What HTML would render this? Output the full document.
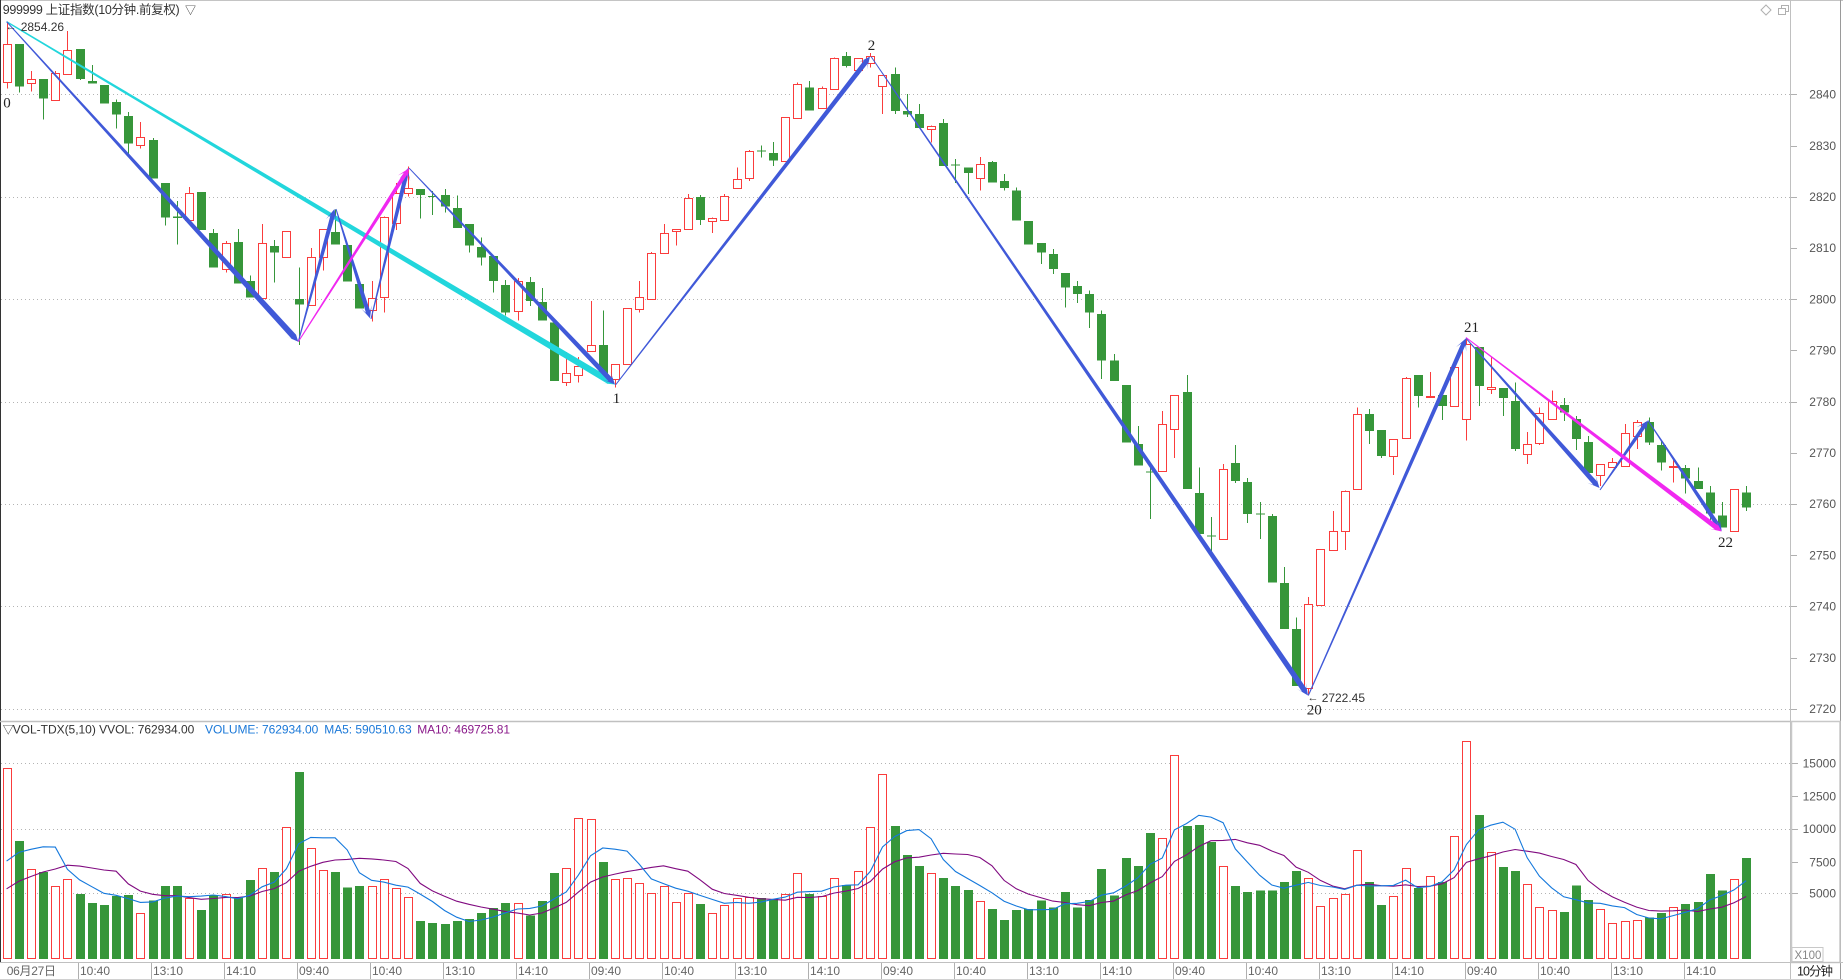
<!DOCTYPE html>
<html><head><meta charset="utf-8">
<style>
html,body{margin:0;padding:0;background:#fff;}
svg{display:block;}
text{font-family:"Liberation Sans","Noto Sans CJK SC",sans-serif;}
.ax{font-size:12px;fill:#555;}
.bx{font-size:12px;fill:#666;}
.lb{font-family:"Liberation Serif","Noto Serif CJK SC",serif;font-size:15px;fill:#222;}
</style></head>
<body>
<svg id="s" width="1843" height="980" viewBox="0 0 1843 980" xmlns="http://www.w3.org/2000/svg">
<rect width="1843" height="980" fill="#fff"/>
<g id="grid" stroke="#b4b4b4" stroke-dasharray="1,3" stroke-width="1"></g>
<g id="vol" shape-rendering="crispEdges"></g>
<g id="ma" fill="none" stroke-width="1.1"></g>
<g id="cand" shape-rendering="crispEdges"></g>
<g id="zz"></g>

<!-- frame -->
<g fill="none">
<line x1="0" y1="0.5" x2="1843" y2="0.5" stroke="#c4c4c4"/>
<line x1="0.5" y1="0" x2="0.5" y2="963" stroke="#333"/>
<line x1="0" y1="721.5" x2="1791" y2="721.5" stroke="#c0c0c0" stroke-width="1.5"/>
<line x1="1790.5" y1="0" x2="1790.5" y2="980" stroke="#c0c0c0"/>
<line x1="1840.5" y1="0" x2="1840.5" y2="980" stroke="#9a9a9a"/>
<rect x="1791.5" y="721.5" width="48.5" height="241" stroke="#c8c8c8" stroke-width="1.5"/>
<line x1="0" y1="962.5" x2="1843" y2="962.5" stroke="#c0c0c0"/>
<line x1="0" y1="979.5" x2="1843" y2="979.5" stroke="#d0d0d0"/>
<rect x="1792" y="947.5" width="31" height="14" stroke="#c8c8c8"/>
<polygon points="1766,5 1771,10 1766,15 1761,10" stroke="#b0b0b0"/>
<rect x="1781.5" y="5.5" width="7" height="6" stroke="#b0b0b0" fill="#fff"/>
<rect x="1778.5" y="8.5" width="7" height="6" stroke="#b0b0b0" fill="#fff"/>
</g>
<g id="ticks" stroke="#b0b0b0"></g>

<!-- title -->
<text x="2.7" y="14" font-size="12.5" fill="#333" textLength="177">999999 上证指数(10分钟.前复权)</text>
<text x="185" y="14" font-size="11" fill="#333">▽</text>

<!-- price labels -->
<g class="ax" text-anchor="end">
<text x="1836" y="98.6">2840</text>
<text x="1836" y="149.8">2830</text>
<text x="1836" y="201">2820</text>
<text x="1836" y="252.2">2810</text>
<text x="1836" y="303.4">2800</text>
<text x="1836" y="354.6">2790</text>
<text x="1836" y="405.8">2780</text>
<text x="1836" y="457">2770</text>
<text x="1836" y="508.2">2760</text>
<text x="1836" y="559.4">2750</text>
<text x="1836" y="610.6">2740</text>
<text x="1836" y="661.8">2730</text>
<text x="1836" y="713">2720</text>
<text x="1836" y="767.6">15000</text>
<text x="1836" y="800.3">12500</text>
<text x="1836" y="833">10000</text>
<text x="1836" y="866.3">7500</text>
<text x="1836" y="897.6">5000</text>
</g>
<text x="1794.5" y="959" font-size="11.5" fill="#888">X100</text>
<text x="1797" y="975.5" font-size="12.5" fill="#222" textLength="36">10分钟</text>

<!-- volume header -->
<text x="2.7" y="733.6" font-size="11" fill="#333">▽</text>
<text x="12.7" y="733.6" font-size="12" fill="#333" textLength="181.6">VOL-TDX(5,10) VVOL: 762934.00</text>
<text x="205" y="733.6" font-size="12" fill="#1a78d8" textLength="113.3">VOLUME: 762934.00</text>
<text x="324.3" y="733.6" font-size="12" fill="#1a78d8" textLength="87.4">MA5: 590510.63</text>
<text x="417.3" y="733.6" font-size="12" fill="#8a1a8a" textLength="92.7">MA10: 469725.81</text>

<!-- bottom labels -->
<g class="bx">
<text x="6.7" y="975" textLength="49.3">06月27日</text>
<text x="80" y="975">10:40</text>
<text x="153" y="975">13:10</text>
<text x="226" y="975">14:10</text>
<text x="299" y="975">09:40</text>
<text x="372" y="975">10:40</text>
<text x="445" y="975">13:10</text>
<text x="518" y="975">14:10</text>
<text x="591" y="975">09:40</text>
<text x="664" y="975">10:40</text>
<text x="737" y="975">13:10</text>
<text x="810" y="975">14:10</text>
<text x="883" y="975">09:40</text>
<text x="956" y="975">10:40</text>
<text x="1029" y="975">13:10</text>
<text x="1102" y="975">14:10</text>
<text x="1175" y="975">09:40</text>
<text x="1248" y="975">10:40</text>
<text x="1321" y="975">13:10</text>
<text x="1394" y="975">14:10</text>
<text x="1467" y="975">09:40</text>
<text x="1540" y="975">10:40</text>
<text x="1613" y="975">13:10</text>
<text x="1686" y="975">14:10</text>
</g>

<!-- wave labels -->
<text class="lb" x="3.3" y="107.5">0</text>
<text class="lb" x="612.7" y="403">1</text>
<text class="lb" x="867.7" y="50">2</text>
<text class="lb" x="1306.7" y="714.5">20</text>
<text class="lb" x="1464" y="332">21</text>
<text class="lb" x="1718" y="547">22</text>
<text x="5.5" y="30" font-size="11" fill="#333">←</text>
<text x="20.7" y="30.8" font-size="12" fill="#333" textLength="43.4">2854.26</text>
<text x="1307.5" y="701" font-size="11" fill="#333">←</text>
<text x="1321.7" y="702" font-size="12" fill="#333" textLength="43.3">2722.45</text>
</svg>

<script>
(function(){
var RED='#fa3c3c', GRN='#36963a';
var C=[
['r',44.3,82.3,21.7,88.3],['g',44,86.7,44,92.7],['r',79.3,83.3,71,91.7],['g',79,98.7,79,119.3],['r',73.3,100.3,71,100.3],
['r',50.3,74.3,31,74.3],['g',49,79,49,80],['g',81,83.7,65,83.7],['g',85,103.7,85,103.7],['g',102,114.7,99.3,128.7],
['g',116,143.7,112,156],['r',137,145.3,122,148.7],['g',140,178.7,138,178.7],['g',183,217.7,183,225.7],['g',216.5,218,201,244.3],
['r',193.3,220,187,223.3],['g',192,230,192,230],['g',233,267.7,229,267.7],['r',243.3,269.3,241,272.7],['g',242,283.3,229,283.3],
['g',281,297.7,275.3,297.7],['r',243.3,298.3,224,300],['g',246,252.7,240,282.7],['r',231,256.7,231,256.7],['g',299,304.7,267.7,345],
['r',257.3,305.3,248,305.3],['r',229.3,257.3,229.3,270.7],['g',232,244.7,209.3,244.7],['g',245,281.7,245,281.7],['g',284,308.7,284,308.7],
['r',298.3,310,281,321.7],['r',216.7,297.3,216.7,312.7],['r',192.7,222.7,183,230],['r',187.7,193.3,166.7,196.7],['g',189,195,189,218.7],
['g',195.8,196.8,191,215],['g',195,206.7,189,212.3],['g',208,228,195.6,228],['g',223.8,245.6,223.8,252.5],['g',247,257.5,237.5,265.6],
['g',256,281,256,292.5],['g',285,312.5,280,315.6],['r',280.6,310.6,278,320.6],['g',282,301,277,306],['g',302,320.6,288,320.6],
['g',322.5,381,322.5,381],['r',373,382,352,386],['r',365.6,375,357,382.5],['r',345,351,301,351],['g',345,375,310.6,375],
['r',364,379,364,387.5],['r',308,364,308,364],['r',297,309,281,312.5],['r',253,299,252,300],['r',232.5,253,224,253],
['r',229.4,231,229.4,245.6],['r',197.5,229.4,194,229.4],['g',197,220,195,225],['r',217.5,221,217.5,233],['r',195.6,220,194,220],
['r',179.4,187.5,167.5,187.5],['r',151,178,150,181],['g',150.5,151.5,145.6,157.5],['g',153,160.6,142,166],['r',117,161,117,161],
['r',84.4,117.5,82.5,118.7],['g',87.5,110.6,81,110.6],['r',87.5,107.5,86.3,107.5],['r',57.5,88.75,57.5,88.75],['g',56,66,52,67.5],
['r',58,70,58,75],['r',56,62.5,53,67.5],['r',75,86,75,114],['g',74,111,67.5,114],['g',111,114.4,94,117],
['g',114,128,104,128],['r',125.6,129.4,125.6,142.5],['g',123,166,119,166],['g',164.5,165.5,159,183],['g',167.5,173,167.5,194],
['r',164,177.5,157,190.6],['g',162,182.5,161,182.5],['g',181,188,174,190.6],['g',190.6,220.6,187.5,220.6],['g',221,244.4,221,244.4],
['g',243,252.5,243,264],['g',254,269,249,274],['g',273,287.5,273,307.5],['g',286,294,281,303],['g',294,312.5,290.6,328],
['g',314,360.6,310.6,379],['g',360.6,381,354,381],['g',385,442.5,385,442.5],['g',444,465.6,426,465.6],['g',471.5,472.5,465.6,518.75],
['r',424,471,411,471],['r',395,429,395,458],['g',392,489,375,489],['g',493,534,467.5,534],['g',535.5,536.5,517,553],
['r',469,539,464,539],['g',463,481,445,483],['g',482,514,478,523],['g',513.5,514.5,502,539],['g',516,582.5,514,582.5],
['g',583,629,567,629],['g',629,686,617.5,686],['r',604,688,597,695.5],['r',549,605,549,605],['r',531,550,511,550],
['r',490.6,531,490.6,550],['r',414,489,407.5,489],['g',414,431,409,444],['g',430,456,430,458],['r',439,456,439,475],
['r',378,437.5,377,439],['g',375,396,375,407.5],['r',396,397,372,397],['g',395,406,395,420],['r',367,406,367,406],
['r',344,419,338.5,440.6],['g',347,386,347,406],['r',387,389,357,394],['g',388,398,388,416],['g',401,449,382.5,451],
['r',444,454,432,464],['r',413,443,407.5,445],['r',401,419,390.6,420],['g',405,412.5,398,421],['g',419,439,416,450],
['g',442,473,436,473],['r',464,475,464,486],['r',462,466.5,458,467.5],['r',433,466,424,466],['r',421.5,436,420,449],
['g',422,442.5,417.5,445],['g',445,462.5,441,470.5],['r',465.5,466.5,460,482.7],['g',468,478.5,465,493.5],['g',481,489,467.5,489],
['g',492.5,513.5,486,524],['g',515.5,527.5,502,527.5],['r',489,531,489,531],['g',492.5,507.5,486,511]
];
var V=[767.5,841,868.8,872,886,878.8,893.8,903,905,896,895,913,900.6,886,886,898,910,895,894,897,
880,868,872,827,772,848,870,872,887.5,886,886,879,887.5,897,921,923,924,
921,918.75,913,908,903,902.5,915.6,901,873,868,818,819,862,879,877.5,883,893,885.6,902,892.5,904,913,905,897.5,897,898,899,894,873,894,896,878,885,871,827,774,826,
855,866,872.5,878,886,890,901,909,920,910,909,900.6,907.5,892,907.5,900,869,895.6,858,866,833,837.5,755,826,825,842,865.6,886,892,890.6,890.6,882,871,878,906,898,894,
850,882,905,896,867.5,888,875.6,882,836,741,815,852,867,871,884,907,910,912,885.6,900,909,923,920.6,920,917.5,913,907,904,902,874,890.6,879,858];
function cx(i){return 6.6+i*12.165;}
var BASE=958.5;
// grid
var g='';
[94.3,196.7,299.1,401.5,503.9,606.3,708.7,763.3,828.7,893.3].forEach(function(y){
  var yy=Math.round(y)+0.5; g+='<line x1="1" y1="'+yy+'" x2="1790" y2="'+yy+'"/>';});
document.getElementById('grid').innerHTML=g;
// ticks
var t='';
[94.3,145.5,196.7,247.9,299.1,350.3,401.5,452.7,503.9,555.1,606.3,657.5,708.7].forEach(function(y){
  var yy=Math.round(y)+0.5; t+='<line x1="1791" y1="'+yy+'" x2="1797" y2="'+yy+'"/>';});
[763.3,796,828.7,862,893.3].forEach(function(y){
  var yy=Math.round(y)+0.5; t+='<line x1="1792" y1="'+yy+'" x2="1798" y2="'+yy+'"/>';});
for(var i=6;i<144;i+=6){var x=Math.round(cx(i)-1.5)+0.5; t+='<line x1="'+x+'" y1="963" x2="'+x+'" y2="979"/>';}
document.getElementById('ticks').innerHTML=t;
// candles + volume
var s='',v='';
C.forEach(function(c,i){
  var x=Math.round(cx(i)), wx=x+0.5;
  var top=c[1],bot=c[2],hi=c[3],lo=c[4];
  var vt=V[i];
  if(c[0]==='r'){
    var t1=Math.round(top)+0.5,b1=Math.round(bot)+0.5; if(b1<t1+1)b1=t1+1;
    if(hi<t1) s+='<line x1="'+wx+'" y1="'+hi+'" x2="'+wx+'" y2="'+t1+'" stroke="'+RED+'"/>';
    if(lo>b1) s+='<line x1="'+wx+'" y1="'+b1+'" x2="'+wx+'" y2="'+lo+'" stroke="'+RED+'"/>';
    s+='<rect x="'+(x-3.5)+'" y="'+t1+'" width="8" height="'+(b1-t1)+'" fill="#fff" stroke="'+RED+'"/>';
    var vt1=Math.round(vt)+0.5;
    v+='<rect x="'+(x-3.5)+'" y="'+vt1+'" width="8" height="'+(BASE-vt1)+'" fill="#fff" stroke="'+RED+'"/>';
  } else {
    var h=Math.max(bot-top,1.2);
    s+='<line x1="'+wx+'" y1="'+hi+'" x2="'+wx+'" y2="'+lo+'" stroke="'+GRN+'"/>';
    s+='<rect x="'+(x-4)+'" y="'+top+'" width="9" height="'+h+'" fill="'+GRN+'"/>';
    v+='<rect x="'+(x-4)+'" y="'+vt+'" width="9" height="'+(BASE+0.5-vt)+'" fill="'+GRN+'"/>';
  }
});
document.getElementById('cand').innerHTML=s;
document.getElementById('vol').innerHTML=v;
// MAs
var pre=[42,42,42,42,42,74,74,74,74];
var H=V.map(function(q){return BASE-q;});
var all=pre.concat(H);
function ma(n){var p=[];for(var i=0;i<H.length;i++){var sm=0;for(var k=0;k<n;k++)sm+=all[i+9-k];p.push(cx(i).toFixed(1)+','+(BASE-sm/n).toFixed(1));}return p.join(' ');}
document.getElementById('ma').innerHTML='<polyline points="'+ma(10)+'" stroke="#800a80"/><polyline points="'+ma(5)+'" stroke="#1478dc"/>';
// zigzag arrows
function arrow(x1,y1,x2,y2,col,w1,w0,L,Hh){
  w0=w0||1;L=L||12;Hh=Hh||5.5;
  var dx=x2-x1,dy=y2-y1,len=Math.sqrt(dx*dx+dy*dy),ux=dx/len,uy=dy/len,nx=-uy,ny=ux;
  var bx=x2-ux*L,by=y2-uy*L,mx=x2-ux*L*0.55,my=y2-uy*L*0.55;
  var P=[[x1+nx*w0/2,y1+ny*w0/2],[mx+nx*w1/2,my+ny*w1/2],[bx+nx*Hh,by+ny*Hh],[x2,y2],[bx-nx*Hh,by-ny*Hh],[mx-nx*w1/2,my-ny*w1/2],[x1-nx*w0/2,y1-ny*w0/2]];
  return '<polygon fill="'+col+'" points="'+P.map(function(p){return p[0].toFixed(1)+','+p[1].toFixed(1);}).join(' ')+'"/>';
}
var BL='#4059d8',CY='#22d6dc',MG='#f028f0';
var z='';
z+=arrow(6.6,21.7,615,384.5,CY,6.5,1.5,12,5.5);
z+=arrow(6.6,21.7,298.3,341.7,BL,6,1);
z+=arrow(298.3,341.7,334.5,209,BL,4.5,1);
z+=arrow(336,209,370,318.3,BL,4.5,1);
z+=arrow(371,319,407.7,168.3,BL,4.5,1);
z+=arrow(409,168,615,384.5,BL,5,1);
z+=arrow(615.5,385,870,56.5,BL,5,1);
z+=arrow(871,56.5,1308,695.5,BL,5.5,1);
z+=arrow(1308.3,695.5,1466,338.3,BL,4.5,1);
z+=arrow(1466,338.3,1599.5,488,BL,5,1);
z+=arrow(1600,490,1648,420.5,BL,4,1);
z+=arrow(1648,420.5,1721.7,531,BL,4.5,1);
z+=arrow(298.3,341.7,409,168.3,MG,4,1);
z+=arrow(1466,337.5,1721.7,531.5,MG,5,1);
document.getElementById('zz').innerHTML=z;
})();
</script>
</body></html>
